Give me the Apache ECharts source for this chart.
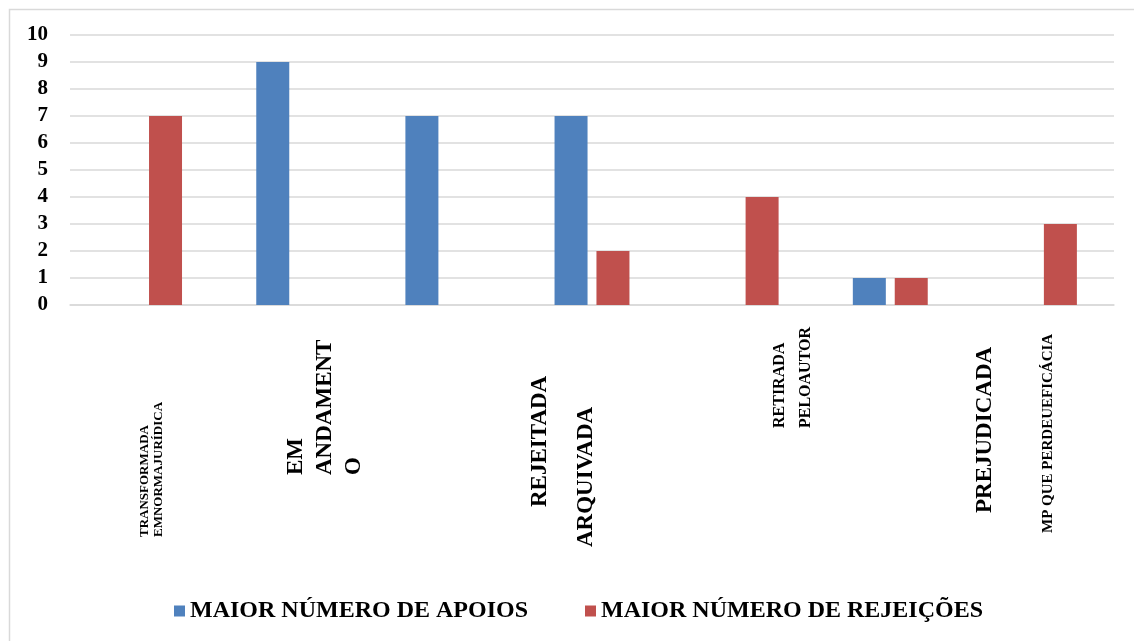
<!DOCTYPE html>
<html>
<head>
<meta charset="utf-8">
<script src="https://cdn.jsdelivr.net/npm/echarts@6/dist/echarts.min.js"></script>
<style>
  html, body { margin: 0; padding: 0; background: #fff; }
  #chart { width: 1134px; height: 641px; }
</style>
</head>
<body>
<div id="chart"></div>
<script>
const categories = [
  'TRANSFORMADA\nEMNORMAJURÍDICA',
  'EM\nANDAMENT\nO',
  'REJEITADA',
  'ARQUIVADA',
  'RETIRADA\nPELOAUTOR',
  'PREJUDICADA',
  'MP QUE PERDEUEFICÁCIA'
];
const seriesNames = ['MAIOR NÚMERO DE APOIOS', 'MAIOR NÚMERO DE REJEIÇÕES'];
const apoios = [0, 9, 7, 7, 0, 1, 0];
const rejeicoes = [7, 0, 0, 2, 4, 1, 3];
const yTicks = [0, 1, 2, 3, 4, 5, 6, 7, 8, 9, 10];

const FONT = '"Liberation Serif", "Times New Roman", serif';
const labelStyleKey = ['s', 'b', 'b', 'b', 'm', 'b', 't'];
const labelPadding = [
  [15, 132, 0, 0],
  [62, 70, 0, 0],
  [194, 102, 0, 0],
  [0, 142, 12, 0],
  [104, 23, 0, 0],
  [190, 108, 0, 0],
  [17, 128, 0, 0]
];

const chart = echarts.init(document.getElementById('chart'));
chart.setOption({
  backgroundColor: '#fff',
  animation: false,
  color: ['#4F81BD', '#C0504D'],
  graphic: [{
    type: 'rect',
    left: 7, top: 7,
    shape: { width: 1200, height: 700 },
    style: { fill: 'none', stroke: '#d9d9d9', lineWidth: 1.5 },
    silent: true, z: -10
  }],
  grid: { left: 70, right: 20, top: 35, bottom: 336 },
  legend: {
    left: 169, top: 594,
    itemWidth: 11, itemHeight: 11, itemGap: 57,
    icon: 'rect',
    textStyle: { fontFamily: FONT, fontSize: 24, fontWeight: 'bold', color: '#000' },
    data: seriesNames
  },
  xAxis: {
    type: 'category',
    data: categories.map((c, i) => ({ value: c, textStyle: { padding: labelPadding[i] } })),
    axisLine: { show: true, lineStyle: { color: '#d9d9d9', width: 1.5 } },
    axisTick: { show: false },
    axisLabel: {
      interval: 0,
      rotate: 90,
      margin: 0,
      width: 100,
      overflow: 'none',
      hideOverlap: false,
      color: '#000',
      fontFamily: FONT,
      fontWeight: 'bold',
      formatter: function (value, index) {
        const k = labelStyleKey[index];
        return value.split('\n').map(l => '{' + k + '|' + l + '}').join('\n');
      },
      rich: {
        s: { fontFamily: FONT, fontWeight: 'bold', fontSize: 13, lineHeight: 14, align: 'left', color: '#000' },
        b: { fontFamily: FONT, fontWeight: 'bold', fontSize: 23, lineHeight: 29, align: 'left', color: '#000' },
        m: { fontFamily: FONT, fontWeight: 'bold', fontSize: 16, lineHeight: 26, align: 'left', color: '#000' },
        t: { fontFamily: FONT, fontWeight: 'bold', fontSize: 15, lineHeight: 16, align: 'left', color: '#000' }
      }
    }
  },
  yAxis: {
    type: 'value',
    min: yTicks[0],
    max: yTicks[yTicks.length - 1],
    interval: 1,
    axisLine: { show: false },
    axisTick: { show: false },
    splitLine: { lineStyle: { color: '#d9d9d9', width: 1.5 } },
    axisLabel: {
      margin: 22,
      color: '#000',
      fontFamily: FONT,
      fontWeight: 'bold',
      fontSize: 21
    }
  },
  series: [
    { name: seriesNames[0], type: 'bar', data: apoios, barWidth: 33, barGap: '27%' },
    { name: seriesNames[1], type: 'bar', data: rejeicoes, barWidth: 33, barGap: '27%' }
  ]
});
</script>
</body>
</html>
